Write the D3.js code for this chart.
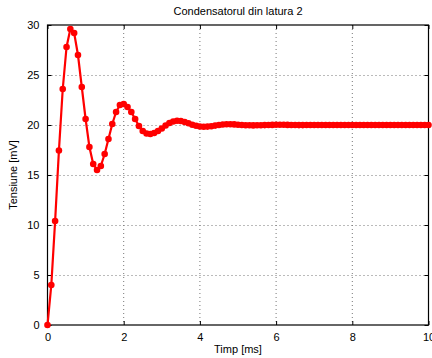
<!DOCTYPE html>
<html><head><meta charset="utf-8">
<script src="https://cdn.jsdelivr.net/npm/d3@7/dist/d3.min.js"></script>
<style>body{margin:0;background:#fff;}svg{display:block;}</style>
</head><body>
<script>
const titleText = "Condensatorul din latura 2";
const xLabel = "Timp [ms]";
const yLabel = "Tensiune [mV]";
const xTicks = [0, 2, 4, 6, 8, 10];
const yTicks = [0, 5, 10, 15, 20, 25, 30];
const timeMs = [
  0.0,0.1,0.2,0.3,0.4,0.5,0.6,0.7,0.8,0.9,
  1.0,1.1,1.2,1.3,1.4,1.5,1.6,1.7,1.8,1.9,
  2.0,2.1,2.2,2.3,2.4,2.5,2.6,2.7,2.8,2.9,
  3.0,3.1,3.2,3.3,3.4,3.5,3.6,3.7,3.8,3.9,
  4.0,4.1,4.2,4.3,4.4,4.5,4.6,4.7,4.8,4.9,
  5.0,5.1,5.2,5.3,5.4,5.5,5.6,5.7,5.8,5.9,
  6.0,6.1,6.2,6.3,6.4,6.5,6.6,6.7,6.8,6.9,
  7.0,7.1,7.2,7.3,7.4,7.5,7.6,7.7,7.8,7.9,
  8.0,8.1,8.2,8.3,8.4,8.5,8.6,8.7,8.8,8.9,
  9.0,9.1,9.2,9.3,9.4,9.5,9.6,9.7,9.8,9.9,
  10.0
];
const tensionMv = [
  0, 4.0, 10.4, 17.45, 23.6, 27.8, 29.6, 29.2, 27.0, 23.8,
  20.6, 17.8, 16.1, 15.5, 15.9, 17.1, 18.6, 20.1, 21.3, 22.0,
  22.1, 21.8, 21.3, 20.6, 19.9, 19.4, 19.15, 19.1, 19.2, 19.4,
  19.65, 19.95, 20.2, 20.35, 20.42, 20.4, 20.3, 20.17, 20.03, 19.92,
  19.85, 19.82, 19.84, 19.88, 19.94, 20.0, 20.05, 20.08, 20.08, 20.06,
  20.03, 20.0, 19.98, 19.97, 19.96, 19.97, 19.98, 19.99, 20.0, 20.01,
  20.02, 20.02, 20.02, 20.01, 20.0, 20.0, 19.99, 19.99, 20.0, 20.0,
  20.0, 20.0, 20.0, 20.0, 20.0, 20.0, 20.0, 20.0, 20.0, 20.0,
  20.0, 20.0, 20.0, 20.0, 20.0, 20.0, 20.0, 20.0, 20.0, 20.0,
  20.0, 20.0, 20.0, 20.0, 20.0, 20.0, 20.0, 20.0, 20.0, 20.0,
  20.0
];

const W = 432, H = 358;
const mLeft = 47.5, mRight = 428.5, mTop = 25, mBottom = 325;
const font = "'Liberation Sans', Arial, Helvetica, sans-serif";

const svg = d3.select("body").append("svg").attr("width", W).attr("height", H);
const x = d3.scaleLinear().domain([0, 10]).range([mLeft, mRight]);
const y = d3.scaleLinear().domain([0, 30]).range([mBottom, mTop]);

// grid
const grid = svg.append("g").attr("stroke", "#777").attr("stroke-width", 1).attr("stroke-dasharray", "1,3");
grid.selectAll("line.gx").data(xTicks.slice(1, -1)).enter().append("line")
  .attr("x1", d => x(d)).attr("x2", d => x(d))
  .attr("y1", mTop).attr("y2", mBottom);
grid.selectAll("line.gy").data(yTicks.slice(1, -1)).enter().append("line")
  .attr("y1", d => y(d) + 0.5).attr("y2", d => y(d) + 0.5)
  .attr("x1", mLeft).attr("x2", mRight);

// axes
const xAxis = d3.axisBottom(x).tickValues(xTicks).tickSizeInner(-4).tickSizeOuter(0).tickPadding(8).tickFormat(d3.format("d"));
const yAxis = d3.axisLeft(y).tickValues(yTicks).tickSizeInner(-4).tickSizeOuter(0).tickPadding(8).tickFormat(d3.format("d"));
const xTop = d3.axisTop(x).tickValues(xTicks).tickSizeInner(-4).tickSizeOuter(0).tickFormat("");
const yRight = d3.axisRight(y).tickValues(yTicks).tickSizeInner(-4).tickSizeOuter(0).tickFormat("");

function styleAxis(g) {
  g.select(".domain").remove();
  g.selectAll("line").attr("stroke", "#000");
  g.selectAll("text").attr("fill", "#000").style("font-family", font).style("font-size", "11px");
}
svg.append("g").attr("transform", `translate(0,${mBottom})`).call(xAxis).call(styleAxis);
svg.append("g").attr("transform", `translate(${mLeft},0)`).call(yAxis).call(styleAxis);
svg.append("g").attr("transform", `translate(0,${mTop})`).call(xTop).call(styleAxis);
svg.append("g").attr("transform", `translate(${mRight},0)`).call(yRight).call(styleAxis);

// box
svg.append("rect").attr("x", mLeft).attr("y", mTop).attr("width", mRight - mLeft).attr("height", mBottom - mTop)
  .attr("fill", "none").attr("stroke", "#000").attr("stroke-width", 1.2);

// data
const pts = timeMs.map((t, i) => [t, tensionMv[i]]);
const line = d3.line().x(d => x(d[0])).y(d => y(d[1]));
svg.append("path").datum(pts).attr("d", line).attr("fill", "none")
  .attr("stroke", "#ff0000").attr("stroke-width", 2.2).attr("stroke-linejoin", "round");
svg.append("g").selectAll("circle").data(pts).enter().append("circle")
  .attr("cx", d => x(d[0])).attr("cy", d => y(d[1])).attr("r", 3.3).attr("fill", "#ff0000");

// labels
svg.append("text").attr("x", (mLeft + mRight) / 2).attr("y", 15).attr("text-anchor", "middle")
  .style("font-family", font).style("font-size", "11px").text(titleText);
svg.append("text").attr("x", (mLeft + mRight) / 2).attr("y", 353).attr("text-anchor", "middle")
  .style("font-family", font).style("font-size", "11px").text(xLabel);
svg.append("text").attr("transform", `translate(17,${(mTop + mBottom) / 2}) rotate(-90)`).attr("text-anchor", "middle")
  .style("font-family", font).style("font-size", "11px").text(yLabel);
</script>
</body></html>
